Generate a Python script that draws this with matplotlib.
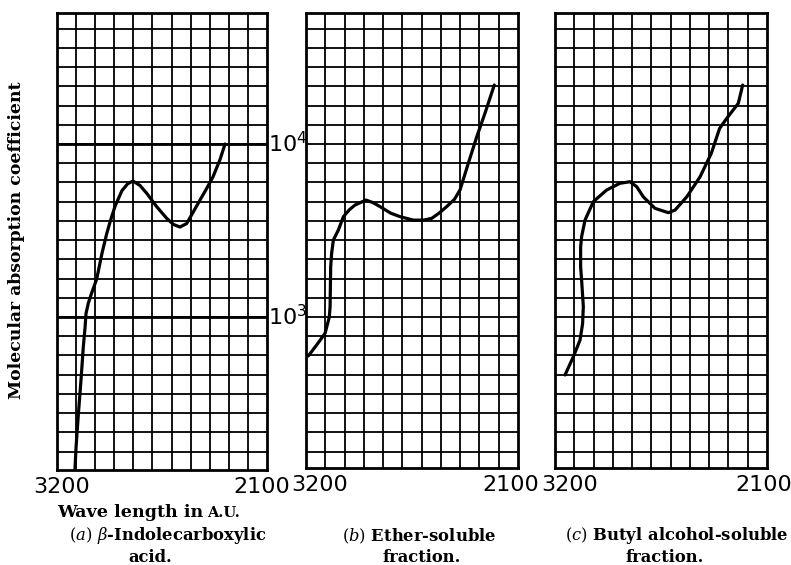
import matplotlib
matplotlib.use("Agg")
import matplotlib.pyplot as plt
import matplotlib.transforms as mtransforms
from matplotlib.ticker import FixedLocator
import numpy as np

plt.rcParams["mathtext.fontset"] = "dejavuserif"

# wave length (A.U.) and log10 of molecular absorption coefficient
wl_a = [3106, 3100, 3088, 3074, 3062, 3053, 3048, 3036, 3018, 2992, 2964, 2940,
        2922, 2896, 2860, 2830, 2802, 2765, 2730, 2678, 2626, 2590, 2556, 2521,
        2490, 2451, 2415, 2383, 2346, 2320]
log_eps_a = [2.12, 2.25, 2.44, 2.64, 2.83, 2.94, 3.02, 3.08, 3.14, 3.22, 3.37, 3.48,
             3.55, 3.64, 3.73, 3.77, 3.786, 3.76, 3.715, 3.638, 3.571, 3.535, 3.52, 3.54,
             3.60, 3.676, 3.745, 3.81, 3.91, 4.0]

wl_b = [3188, 3145, 3101, 3079, 3075, 3072, 3067, 3058, 3032, 3006, 2975, 2946,
        2889, 2850, 2816, 2760, 2712, 2643, 2590, 2548, 2510, 2470, 2430, 2401,
        2358, 2314, 2271, 2223]
log_eps_b = [2.775, 2.838, 2.906, 3.0, 3.06, 3.29, 3.368, 3.445, 3.503, 3.58, 3.62, 3.647,
             3.676, 3.66, 3.638, 3.60, 3.58, 3.56, 3.56, 3.57, 3.60, 3.638, 3.68, 3.734,
             3.888, 4.042, 4.179, 4.341]

wl_c = [3148, 3105, 3070, 3057, 3053, 3062, 3067, 3067, 3062, 3044, 3001, 2932,
        2863, 2811, 2776, 2742, 2681, 2612, 2577, 2516, 2447, 2389, 2346, 2309,
        2249, 2226]
log_eps_c = [2.665, 2.77, 2.867, 2.96, 3.06, 3.214, 3.29, 3.406, 3.464, 3.561, 3.667, 3.734,
             3.773, 3.782, 3.753, 3.695, 3.628, 3.603, 3.618, 3.695, 3.811, 3.946, 4.09, 4.148,
             4.235, 4.341]

wl_ends = [3200, 2100]
decade_labels = [r"$\mathsf{10^3}$", r"$\mathsf{10^4}$"]
decades = [1e3, 1e4]
captions = [["a", r"$\beta$-Indolecarboxylic", "acid."],
            ["b", "Ether-soluble", "fraction."],
            ["c", "Butyl alcohol-soluble", "fraction."]]

fig = plt.figure(figsize=(7.91, 5.65), dpi=100)
W, H = 791, 565
serif = dict(family="DejaVu Serif", weight="bold")

# panel boxes in pixels: left, top, right, bottom
boxes = [(57, 13, 267, 470), (306, 13, 518, 468), (555, 13, 767, 468)]
series = [(wl_a, log_eps_a), (wl_b, log_eps_b), (wl_c, log_eps_c)]
# label nudges in pixels for the 3200 / 2100 labels
nudges = [(5, -5), (14, -7), (15, -3)]
cap_x = [(168, 150), (419, 422), (677, 665)]

top_log = 4 + (144 - 13) / 173.0
grid_wl = np.arange(3100, 2150, -100)

axes = []
for i, (l, t, r, b) in enumerate(boxes):
    ax = fig.add_axes([l / W, 1 - b / H, (r - l) / W, (b - t) / H])
    bot_log = 4 - (b - 144) / 173.0
    ax.set_yscale("log")
    ax.set_xlim(3200, 2100)
    ax.set_ylim(10 ** bot_log, 10 ** top_log)
    levels = [10 ** (3 + k / 9.0) for k in range(-8, 16)]
    levels = [v for v in levels if 10 ** bot_log < v < 10 ** top_log]
    ax.xaxis.set_major_locator(FixedLocator(grid_wl))
    ax.yaxis.set_major_locator(FixedLocator(levels))
    ax.yaxis.set_minor_locator(FixedLocator([]))
    ax.tick_params(length=0, labelbottom=False, labelleft=False)
    ax.grid(True, color="black", lw=1.3)
    for s in ax.spines.values():
        s.set_linewidth(2.0)
    x, y = series[i]
    ax.plot(x, 10 ** np.array(y), color="black", lw=2.3,
            solid_capstyle="round", solid_joinstyle="round")

    tr = ax.get_xaxis_transform()
    for wl, dx in zip(wl_ends, nudges[i]):
        off = mtransforms.ScaledTranslation(dx / 100.0, -7 / 100.0, fig.dpi_scale_trans)
        ax.text(wl, 0, str(wl), transform=tr + off, ha="center", va="top",
                fontsize=16, family="DejaVu Sans")

    cx1, cx2 = cap_x[i]
    tag, name, tail = captions[i]
    fig.text(cx1 / W, 1 - 536 / H, r"$(\mathit{" + tag + r"})$ " + name,
             ha="center", va="center", fontsize=11.8, **serif)
    fig.text(cx2 / W, 1 - 557 / H, tail, ha="center", va="center",
             fontsize=11.8, **serif)
    axes.append(ax)

ax = axes[0]
for v in decades:
    ax.axhline(v, color="black", lw=2.0)
ty = ax.get_yaxis_transform()
off = mtransforms.ScaledTranslation(1 / 100.0, 0, fig.dpi_scale_trans)
for v, lab in zip(decades, decade_labels):
    ax.text(1.0, v, lab, transform=ty + off, ha="left", va="center", fontsize=16)

fig.text(17 / W, 1 - 240 / H, "Molecular absorption coefficient", rotation=90,
         ha="center", va="center", fontsize=12.4, **serif)
base_y = 1 - 517 / H
t1 = fig.text(57 / W, base_y, "Wave length in", ha="left", va="baseline",
              fontsize=12.6, **serif)
fig.text(0, 0, "")
ax.annotate("A.U.", xy=(1, base_y), xycoords=(t1, "figure fraction"),
            xytext=(3, 0), textcoords="offset points", ha="left", va="baseline",
            fontsize=10.5, annotation_clip=False, **serif)

fig.savefig("out.png", dpi=100, facecolor="white")
